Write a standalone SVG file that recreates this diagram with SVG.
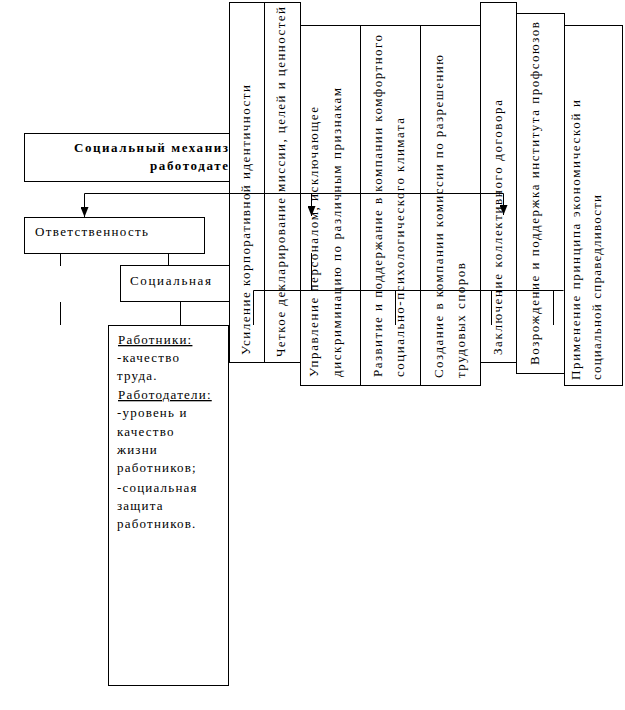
<svg xmlns="http://www.w3.org/2000/svg" width="625" height="710" viewBox="0 0 625 710">
<style>
.box{fill:#fff;stroke:#000;stroke-width:1}
.ln{fill:none;stroke:#000;stroke-width:1}
.t{font-family:"Times New Roman","Liberation Serif",Tinos,"DejaVu Serif",serif;font-size:13px;fill:#000}
.b{font-weight:bold}
.body{letter-spacing:1.2px}
</style>
<defs>
<marker id="ah" markerWidth="10" markerHeight="8" refX="10" refY="4" orient="auto" markerUnits="userSpaceOnUse" viewBox="0 0 10 8">
<path d="M0,0 L10,4 L0,8 Z" fill="#000"/>
</marker>
</defs>
<rect width="625" height="710" fill="#fff"/>

<g id="node-mechanism">
<rect class="box" x="24.5" y="133.5" width="260" height="48"/>
<text class="t b" x="74" y="152" textLength="154" lengthAdjust="spacing">Социальный механиз</text>
<text class="t b" x="150" y="170" textLength="78" lengthAdjust="spacing">работодате</text>
</g>

<g id="node-responsibility">
<rect class="box" x="24.5" y="217.5" width="180" height="36"/>
<text class="t" x="35" y="236" textLength="113" lengthAdjust="spacing">Ответственность</text>
</g>

<g id="node-social">
<rect class="box" x="120.5" y="265.5" width="140" height="36"/>
<text class="t" x="130" y="285" textLength="81" lengthAdjust="spacing">Социальная</text>
</g>

<g id="node-workers">
<rect class="box" x="108.5" y="325.5" width="120" height="360"/>
<text class="t body" x="118" y="344" text-decoration="underline">Работники:</text>
<text class="t body" x="117" y="362">-качество</text>
<text class="t body" x="117" y="380">труда.</text>
<text class="t body" x="118" y="399" text-decoration="underline">Работодатели:</text>
<text class="t body" x="117" y="417">-уровень и</text>
<text class="t body" x="117" y="436">качество</text>
<text class="t body" x="117" y="454">жизни</text>
<text class="t body" x="117" y="472">работников;</text>
<text class="t body" x="117" y="492">-социальная</text>
<text class="t body" x="117" y="510">защита</text>
<text class="t body" x="117" y="528">работников.</text>
</g>

<g id="node-identity">
<rect class="box" x="229.5" y="2.5" width="35" height="360"/>
<text class="t" transform="translate(250,355) rotate(-90)" textLength="270" lengthAdjust="spacing">Усиление корпоративной идентичности</text>
</g>

<g id="node-mission">
<rect class="box" x="264.5" y="2.5" width="36" height="360"/>
<text class="t" transform="translate(285,357) rotate(-90)" textLength="350" lengthAdjust="spacing">Четкое декларирование миссии, целей и ценностей</text>
</g>

<g id="node-personnel">
<rect class="box" x="300.5" y="25.5" width="60" height="360"/>
<text class="t" transform="translate(318,377) rotate(-90)" textLength="270" lengthAdjust="spacing">Управление персоналом, исключающее</text>
<text class="t" transform="translate(341,377) rotate(-90)" textLength="289" lengthAdjust="spacing">дискриминацию по различным признакам</text>
</g>

<g id="node-climate">
<rect class="box" x="360.5" y="25.5" width="60" height="360"/>
<text class="t" transform="translate(382,377) rotate(-90)" textLength="342" lengthAdjust="spacing">Развитие и поддержание в компании комфортного</text>
<text class="t" transform="translate(404,377) rotate(-90)" textLength="259" lengthAdjust="spacing">социально-психологического климата</text>
</g>

<g id="node-commission">
<rect class="box" x="420.5" y="25.5" width="60" height="360"/>
<text class="t" transform="translate(443,378) rotate(-90)" textLength="323" lengthAdjust="spacing">Создание в компании комиссии по разрешению</text>
<text class="t" transform="translate(465,378) rotate(-90)" textLength="115" lengthAdjust="spacing">трудовых споров</text>
</g>

<g id="node-agreement">
<rect class="box" x="480.5" y="2.5" width="36" height="360"/>
<text class="t" transform="translate(502,355) rotate(-90)" textLength="255" lengthAdjust="spacing">Заключение коллективного договора</text>
</g>

<g id="node-unions">
<rect class="box" x="516.5" y="13.5" width="48" height="360"/>
<text class="t" transform="translate(539,365) rotate(-90)" textLength="343" lengthAdjust="spacing">Возрождение и поддержка института профсоюзов</text>
</g>

<g id="node-justice">
<rect class="box" x="564.5" y="25.5" width="58" height="360"/>
<text class="t" transform="translate(580,380) rotate(-90)" textLength="280" lengthAdjust="spacing">Применение принципа экономической и</text>
<text class="t" transform="translate(601,380) rotate(-90)" textLength="185" lengthAdjust="spacing">социальной справедливости</text>
</g>

<g id="connectors">
<path class="ln" d="M84.5,193.5 H503.5"/>
<path class="ln" d="M84.5,193.5 V217" marker-end="url(#ah)"/>
<path class="ln" d="M311.5,193.5 V216" marker-end="url(#ah)"/>
<path class="ln" d="M503.5,193.5 V215" marker-end="url(#ah)"/>
<path class="ln" d="M253.5,325 V290.5 H563.5"/>
<path class="ln" d="M311.5,253 V290.5"/>
<path class="ln" d="M395.5,290.5 V325"/>
<path class="ln" d="M491.5,290.5 V325"/>
<path class="ln" d="M553.5,290.5 V325"/>
<path class="ln" d="M60.5,253.5 V266"/>
<path class="ln" d="M60.5,302 V325"/>
<path class="ln" d="M168.5,253.5 V265.5"/>
<path class="ln" d="M180.5,301.5 V325.5"/>
</g>
</svg>
